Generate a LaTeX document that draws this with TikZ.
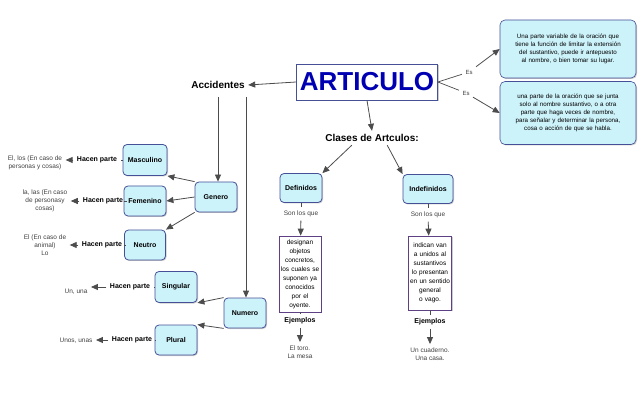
\documentclass[tikz,border=0pt]{standalone}
\usepackage{fontspec}
\setmainfont{Liberation Sans}
\usetikzlibrary{arrows.meta,shadows}
\definecolor{cy}{RGB}{204,242,250}
\definecolor{bd}{RGB}{70,80,150}
\tikzset{
 x=1pt,y=-1pt,
 cbox/.style={draw=bd,fill=cy,rounded corners=4pt,line width=0.8pt,drop shadow={shadow xshift=1pt,shadow yshift=-1pt,opacity=0.4},font=\fontsize{7}{8}\selectfont\bfseries,align=center},
 dbox/.style={draw=bd,fill=cy,rounded corners=5pt,line width=0.6pt,drop shadow={shadow xshift=1pt,shadow yshift=-1pt,opacity=0.4},font=\fontsize{6.2}{8}\selectfont,align=center,inner sep=2pt},
 wbox/.style={draw=bd!80!purple,fill=white,line width=0.7pt,drop shadow={shadow xshift=1pt,shadow yshift=-1pt,opacity=0.4},font=\fontsize{6.5}{9}\selectfont,align=center,inner sep=1pt},
 lbl/.style={font=\fontsize{7}{8}\selectfont\bfseries},
 txt/.style={font=\fontsize{6.5}{8}\selectfont,align=center,text=black!75},
 arr/.style={-{Triangle[length=7pt,width=6pt]},line width=0.8pt,draw=black!70},
 ln/.style={line width=0.7pt,draw=black!70},
}
\begin{document}
\begin{tikzpicture}
\useasboundingbox (0,0) rectangle (640,414);
\node[draw=bd,fill=white,line width=0.8pt,minimum width=137pt,minimum height=36pt,drop shadow={shadow xshift=1.5pt,shadow yshift=-1.5pt,opacity=0.4},text=blue!70!black,font=\fontsize{26}{28}\selectfont\bfseries] (art) at (367,82) {ARTICULO};
\node[font=\fontsize{10}{11}\selectfont\bfseries] (acc) at (218,85) {Accidentes};
\node[dbox,minimum width=136pt,minimum height=58pt,text width=112pt] (d1) at (568,49) {Una parte variable de la oración que tiene la función de limitar la extensión del sustantivo, puede ir antepuesto al nombre, o bien tomar su lugar.};
\node[dbox,minimum width=136pt,minimum height=63pt,text width=112pt] (d2) at (568,113) {una parte de la oración que se junta solo al nombre sustantivo, o a otra parte que haga veces de nombre, para señalar y determinar la persona, cosa o acción de que se habla.};
\node[txt,font=\fontsize{6}{6}\selectfont] (es1) at (469,72) {Es};
\node[txt,font=\fontsize{6}{6}\selectfont] (es2) at (466,93) {Es};
\draw[ln] (art.east) -- (es1);
\draw[arr] (es1) -- (d1.west);
\draw[ln] (art.east) -- (es2);
\draw[arr] (es2) -- (d2.west);
\draw[arr] (art.west) -- (acc.east);
\node[font=\fontsize{10}{11}\selectfont\bfseries] (cla) at (372,138) {Clases de Artculos:};
\draw[arr] (art.south) -- (cla.north);
\node[cbox,minimum width=42pt,minimum height=29pt] (def) at (301,188) {Definidos};
\node[cbox,minimum width=50pt,minimum height=29pt] (ind) at (428,189) {Indefinidos};
\draw[arr] (cla.south west)++(30,0) -- (def.north east);
\draw[arr] (cla.south east)++(-35,0) -- (ind.north west);
\node[txt] (s1) at (301,214) {Son los que};
\node[txt] (s2) at (428,215) {Son los que};
\node[wbox,minimum width=42pt,minimum height=76pt,text width=40pt] (w1) at (300,274) {designan objetos concretos, los cuales se suponen ya conocidos por el oyente.};
\node[wbox,minimum width=43pt,minimum height=74pt,text width=41pt] (w2) at (430,273) {indican van a unidos al sustantivos lo presentan en un sentido general o vago.};
\draw[ln] (def) -- (s1);
\draw[arr] (s1) -- (w1);
\draw[ln] (ind) -- (s2);
\draw[arr] (s2) -- (w2);
\node[lbl] (e1) at (300,321) {Ejemplos};
\node[lbl] (e2) at (430,322) {Ejemplos};
\node[txt] (x1) at (300,352) {El toro.\\La mesa};
\node[txt] (x2) at (430,354) {Un cuaderno.\\Una casa.};
\draw[ln] (w1) -- (e1);
\draw[arr] (e1) -- (x1);
\draw[ln] (w2) -- (e2);
\draw[arr] (e2) -- (x2);
\node[cbox,minimum width=42pt,minimum height=30pt] (gen) at (216,197) {Genero};
\node[cbox,minimum width=42pt,minimum height=30pt] (num) at (245,313) {Numero};
\coordinate (a1) at (218,97);
\coordinate (a2) at (246,97);
\draw[arr] (a1) -- (a1 |- gen.north);
\draw[arr] (a2) -- (a2 |- num.north);
\node[cbox,minimum width=44pt,minimum height=31pt] (mas) at (145,160) {Masculino};
\node[cbox,minimum width=42pt,minimum height=30pt] (fem) at (145,201) {Femenino};
\node[cbox,minimum width=41pt,minimum height=30pt] (neu) at (145,245) {Neutro};
\node[cbox,minimum width=42pt,minimum height=31pt] (sin) at (176,287) {Singular};
\node[cbox,minimum width=42pt,minimum height=30pt] (plu) at (176,340) {Plural};
\draw[arr] (gen.north west) -- (mas.south east);
\draw[arr] (gen.west) -- (fem.east);
\draw[arr] (gen.south west) -- (neu.north east);
\draw[arr] (num.north west) -- (sin.south east);
\draw[arr] (num.south west) -- (plu.north east);
\foreach \b/\l/\t/\lx/\tx/\ty/\tt in {
 mas/h1/t1/97/35/163/{El, los (En caso de\\personas y cosas)},
 fem/h2/t2/103/45/201/{la, las (En caso\\de personasy\\cosas)},
 neu/h3/t3/102/45/245/{El (En caso de\\animal)\\Lo},
 sin/h4/t4/130/76/292/{Un, una},
 plu/h5/t5/132/76/341/{Unos, unas}}{
 \node[lbl] (\l) at (\lx, 0 |- \b) {Hacen parte};
 \node[txt] (\t) at (\tx,\ty) {\tt};
 \draw[ln] (\b.west) -- (\l.east);
 \draw[arr] (\l.west) -- (\l.west -| \t.east);
}
\end{tikzpicture}
\end{document}
